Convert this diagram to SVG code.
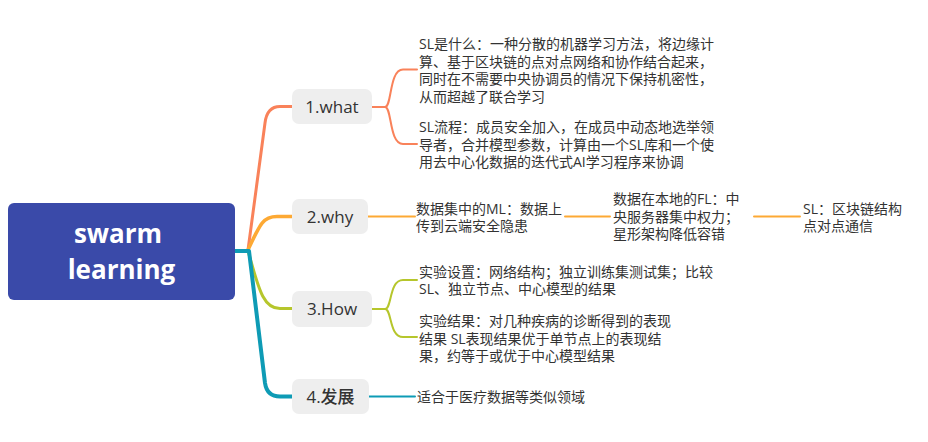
<svg xmlns="http://www.w3.org/2000/svg" width="928" height="442" viewBox="0 0 928 442">
<style>
.main{fill:#EEEEEE}
.mt{font-family:"Open Sans","Noto Sans CJK SC",sans-serif;font-size:17px;font-weight:500;fill:#333333;text-anchor:middle}
.st{font-family:"Open Sans","Noto Sans CJK SC",sans-serif;font-size:14px;fill:#333333}
.ct{font-family:"Open Sans",sans-serif;font-size:26px;font-weight:700;fill:#FFFFFF;text-anchor:middle}
.c{fill:none;stroke-linecap:round;stroke-linejoin:round}
.c1{stroke:#F9825A}
.c2{stroke:#FDA934}
.c3{stroke:#B6C62C}
.c4{stroke:#0E9BB5}
</style>
<rect width="928" height="442" fill="#FFFFFF"/>
<g id="connectors">
  <path class="c c1" stroke-width="3" d="M248,250 L265,123 Q267,106.5 280,106.5 H292"/>
  <path class="c c2" stroke-width="3.5" d="M248,250 C260,224 263,216.5 277,216.5 H292"/>
  <path class="c c3" stroke-width="3" d="M248,251 C258,285 262,308.5 280,308.5 H292"/>
  <path class="c c4" stroke-width="4" d="M235,251 H249 L265,383 Q267,396.5 280,396.5 H292"/>
  <path class="c c1" stroke-width="2" d="M372,107 H385 C392,107 389,69.5 403,69.5 H417"/>
  <path class="c c1" stroke-width="2" d="M385,107 C392,107 389,144 403,144 H417"/>
  <path class="c c2" stroke-width="2" d="M368,216.5 H415"/>
  <path class="c c2" stroke-width="2" d="M565,216.5 H610"/>
  <path class="c c2" stroke-width="2" d="M754,216.5 H800"/>
  <path class="c c3" stroke-width="2" d="M372,309 H385 C392,309 389,280 403,280 H417"/>
  <path class="c c3" stroke-width="2" d="M385,309 C392,309 389,337 403,337 H417"/>
  <path class="c c4" stroke-width="2" d="M369,396.5 H415"/>
</g>
<g id="root">
  <rect x="8" y="203" width="227" height="97" rx="6" fill="#3A4AA9"/>
  <text class="ct" x="118" y="243">swarm</text>
  <text class="ct" x="121.5" y="279">learning</text>
</g>
<g id="what">
  <rect class="main" x="292" y="89" width="80" height="35" rx="7"/>
  <text class="mt" x="332" y="113">1.what</text>
</g>
<g id="why">
  <rect class="main" x="292" y="199" width="76" height="35" rx="7"/>
  <text class="mt" x="330" y="223">2.why</text>
</g>
<g id="how">
  <rect class="main" x="292" y="291" width="80" height="36" rx="7"/>
  <text class="mt" x="332" y="315">3.How</text>
</g>
<g id="dev">
  <rect class="main" x="292" y="379" width="77" height="35" rx="7"/>
  <text class="mt" x="330.5" y="403">4.发展</text>
</g>
<g id="what-1">
  <text class="st" x="419"><tspan x="419" y="49">SL是什么：一种分散的机器学习方法，将边缘计</tspan><tspan x="419" y="66.7">算、基于区块链的点对点网络和协作结合起来，</tspan><tspan x="419" y="84.4">同时在不需要中央协调员的情况下保持机密性，</tspan><tspan x="419" y="102">从而超越了联合学习</tspan></text>
</g>
<g id="what-2">
  <text class="st"><tspan x="419" y="132">SL流程：成员安全加入，在成员中动态地选举领</tspan><tspan x="419" y="149.7">导者，合并模型参数，计算由一个SL库和一个使</tspan><tspan x="419" y="167.4">用去中心化数据的迭代式AI学习程序来协调</tspan></text>
</g>
<g id="why-1">
  <text class="st"><tspan x="416" y="213.5">数据集中的ML：数据上</tspan><tspan x="416" y="231.2">传到云端安全隐患</tspan></text>
</g>
<g id="why-2">
  <text class="st"><tspan x="613" y="204">数据在本地的FL：中</tspan><tspan x="613" y="221.7">央服务器集中权力；</tspan><tspan x="613" y="239.4">星形架构降低容错</tspan></text>
</g>
<g id="why-3">
  <text class="st"><tspan x="803" y="213.5">SL：区块链结构</tspan><tspan x="803" y="231.2">点对点通信</tspan></text>
</g>
<g id="how-1">
  <text class="st"><tspan x="419" y="276.6">实验设置：网络结构；独立训练集测试集；比较</tspan><tspan x="419" y="294.3">SL、独立节点、中心模型的结果</tspan></text>
</g>
<g id="how-2">
  <text class="st"><tspan x="419" y="326">实验结果：对几种疾病的诊断得到的表现</tspan><tspan x="419" y="343.7">结果 SL表现结果优于单节点上的表现结</tspan><tspan x="419" y="361.4">果，约等于或优于中心模型结果</tspan></text>
</g>
<g id="dev-1">
  <text class="st" x="417" y="402">适合于医疗数据等类似领域</text>
</g>
</svg>
